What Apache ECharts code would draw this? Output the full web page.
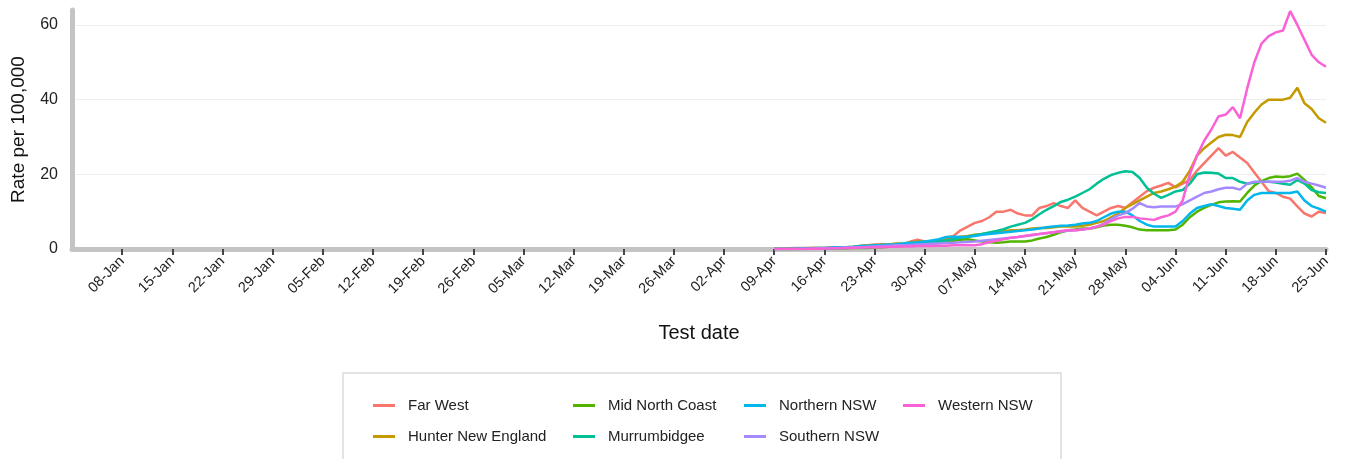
<!DOCTYPE html>
<html>
<head>
<meta charset="utf-8">
<script src="https://cdn.jsdelivr.net/npm/echarts@6/dist/echarts.min.js"></script>
<style>html,body{margin:0;padding:0;background:#fff}#chart{width:1350px;height:459px}</style>
</head>
<body>
<div id="chart"></div>
<script>
// daily test dates 01-Jan .. 25-Jun (2022)
const months = ['Jan', 'Feb', 'Mar', 'Apr', 'May', 'Jun'];
const monthDays = [31, 28, 31, 30, 31, 25];
const dates = [];
monthDays.forEach((n, m) => {
    for (let d = 1; d <= n; d++) dates.push(String(d).padStart(2, '0') + '-' + months[m]);
});
const firstDataIndex = dates.indexOf('09-Apr');

// values from 09-Apr to 25-Jun
const farWest = [0,0,0.2,0.3,0.3,0.3,0.3, 0.3,0.3,0.3,0.5,0.5,0.8,1.0, 1.2,1.2,1.3,1.0,1.0,2.0,2.5,
    2.0,1.8,2.0,3.0,3.5,5.0,6.0, 7.0,7.5,8.5,10.0,10.0,10.5,9.5, 9.0,9.0,11.0,11.5,12.3,11.5,11.0,
    13.0,11.0,10.0,9.0,10.0,11.0,11.5, 11,12.5,14,15.5,16.4,17,17.7, 16.5,17.5,18.5,21,23,25,27,
    25,26,24.5,23,20.5,18,15.5, 15,14,13.5,11.4,9.5,8.7,10,9.6];
const hunterNewEngland = [0,0,0,0,0.2,0.3,0.3, 0.3,0.4,0.5,0.5,0.6,0.8,1.0, 1.0,1.2,1.2,1.5,1.5,1.8,2.0,
    2.0,2.0,2.2,2.5,3.0,3.3,3.5, 3.8,4.0,4.2,4.5,4.7,5.0,5.0, 5.2,5.5,5.6,5.6,5.8,6.0,6.0,
    6.0,6.2,6.5,7.0,7.5,8.5,9.5, 11,12,13,14,15,15.4,16, 16.7,18,21,25,27,28.5,30,
    30.6,30.5,30,34,36.5,38.7,40, 40,40,40.5,43.2,39,37.5,35,33.8];
const midNorthCoast = [0,0,0,0,0,0.1,0.1, 0.1,0.2,0.2,0.2,0.3,0.3,0.3, 0.4,0.5,0.6,0.7,0.8,1.0,1.2,
    1.3,1.5,1.7,1.9,2.2,2.5,2.6, 2.3,2.0,1.8,1.7,1.8,2.0,2.0, 2.0,2.3,2.8,3.2,3.8,4.5,5.0,
    5.2,5.5,5.4,5.8,6.3,6.5,6.5, 6.2,5.8,5.2,5.0,5.0,5.0,5.0, 5.2,6.5,8.5,10,11,11.8,12.5,
    12.7,12.8,12.7,15,17,18.2,19, 19.4,19.3,19.5,20.2,18.5,16.5,14.2,13.6];
const murrumbidgee = [0,0,0,0,0,0,0.1, 0.2,0.2,0.3,0.3,0.4,0.5,0.5, 0.6,0.7,0.8,0.9,1.0,1.2,1.3,
    1.5,1.7,2.0,2.3,2.6,3.0,3.3, 3.7,4.0,4.4,4.8,5.3,6.0,6.5, 7.0,8.0,9.3,10.5,11.5,12.6,13.2,
    14.0,15.0,16.0,17.5,18.8,19.8,20.4, 20.8,20.6,19,16.4,14.8,13.7,14.5, 15.4,15.8,17.5,20,20.5,20.4,20.2,
    19,19,18,17.5,17.8,18,18, 17.8,17.5,17.2,18.5,17.5,15.8,15.2,15];
const northernNSW = [0,0,0,0.1,0.2,0.2,0.3, 0.3,0.4,0.5,0.5,0.6,0.8,0.9, 1.0,1.1,1.2,1.3,1.5,1.7,1.8,
    2.0,2.3,2.6,3.2,3.3,3.2,3.3, 3.5,3.8,4.0,4.2,4.4,4.6,4.8, 5.0,5.2,5.5,5.8,6.0,6.2,6.3,
    6.5,6.8,7.0,7.5,8.5,9.5,10.0, 10.0,9.0,7.5,6.5,6.0,6.0,6.0, 6.0,7.5,9.5,11,11.5,12,11.5,
    11,10.8,10.5,13,14.5,15,15, 15,15,15,15.4,13.0,11.5,10.8,10];
const southernNSW = [0,0,0,0,0.1,0.1,0.2, 0.2,0.3,0.3,0.4,0.5,0.5,0.6, 0.7,0.8,0.9,1.0,1.0,1.1,1.2,
    1.3,1.4,1.5,1.6,1.7,1.8,1.9, 2.0,2.2,2.4,2.6,2.8,3.0,3.2, 3.5,3.7,4.0,4.2,4.5,4.7,4.9,
    5.0,5.2,5.5,6.0,6.8,8.0,9.0, 9.6,10.8,12.3,11.4,11.2,11.4,11.4, 11.4,12,13,14,15,15.4,16,
    16.4,16.4,15.9,17.5,18,18,18, 18,18,18.3,19,18,17.5,17,16.4];
const westernNSW = [0,0,0,0,0,0.1,0.1, 0.1,0.2,0.2,0.3,0.3,0.4,0.4, 0.5,0.5,0.6,0.6,0.7,0.7,0.8,
    0.8,0.8,0.9,0.9,1.0,1.0,1.0, 1.0,1.3,1.8,2.2,2.6,3.0,3.2, 3.5,3.8,4.0,4.3,4.5,4.8,5.0,
    5.0,5.2,5.5,6.0,6.5,7.5,8.2, 8.6,8.6,8.2,8.0,7.8,8.5,9, 10,13,20,25,29,32,35.5,
    36,38,35,43,50,55,57, 58,58.5,63.7,60,56,52,50,48.8];

const seriesDefs = [
    ['Far West', farWest, '#f8766d'],
    ['Hunter New England', hunterNewEngland, '#c49a00'],
    ['Mid North Coast', midNorthCoast, '#53b400'],
    ['Murrumbidgee', murrumbidgee, '#00c094'],
    ['Northern NSW', northernNSW, '#00b6eb'],
    ['Southern NSW', southernNSW, '#a58aff'],
    ['Western NSW', westernNSW, '#fb61d7']
];

const lead = new Array(firstDataIndex).fill(null);
const showTick = (i) => i >= 7 && (i - 7) % 7 === 0;

// legend is laid out in columns: [left, top]
const legendPos = {
    'Far West': [368, 393], 'Hunter New England': [368, 424],
    'Mid North Coast': [568, 393], 'Murrumbidgee': [568, 424],
    'Northern NSW': [739, 393], 'Southern NSW': [739, 424],
    'Western NSW': [898, 393]
};

let myChart = echarts.init(document.getElementById('chart'));
myChart.setOption({
    animation: false,
    textStyle: { fontFamily: 'Liberation Sans, Arial, sans-serif' },
    grid: { left: 72, right: 24, top: 10, bottom: 210 },
    graphic: [{
        type: 'rect', left: 342, top: 372,
        shape: { width: 718, height: 100 },
        style: { fill: '#fff', stroke: '#e3e3e3', lineWidth: 2 }
    }],
    legend: seriesDefs.map(([name]) => ({
        data: [name], left: legendPos[name][0], top: legendPos[name][1],
        icon: 'rect', itemWidth: 22, itemHeight: 3, itemGap: 10,
        textStyle: { fontSize: 15, color: '#222', padding: [0, 0, 0, 8] }
    })),
    xAxis: {
        type: 'category',
        data: dates,
        boundaryGap: false,
        name: 'Test date',
        nameLocation: 'middle',
        nameGap: 74,
        nameTextStyle: { fontSize: 20, color: '#111' },
        axisLine: { lineStyle: { color: '#c4c4c4', width: 5 } },
        axisTick: { interval: showTick, length: 6, lineStyle: { color: '#444', width: 2 } },
        axisLabel: { interval: showTick, rotate: 45, fontSize: 14.5, color: '#222', margin: 10 }
    },
    yAxis: {
        type: 'value',
        min: 0, max: 64, interval: 20,
        name: 'Rate per 100,000',
        nameLocation: 'middle',
        nameGap: 44,
        nameTextStyle: { fontSize: 19, color: '#111' },
        axisLine: { show: true, lineStyle: { color: '#c4c4c4', width: 5 } },
        axisLabel: { fontSize: 16, color: '#222', margin: 14, showMaxLabel: false },
        splitLine: { showMaxLine: false, lineStyle: { color: '#eeeeee' } }
    },
    series: seriesDefs.map(([name, vals, color]) => ({
        name, type: 'line', data: lead.concat(vals),
        showSymbol: false, lineStyle: { width: 2.5, color }, itemStyle: { color }
    }))
});
</script>
</body>
</html>
